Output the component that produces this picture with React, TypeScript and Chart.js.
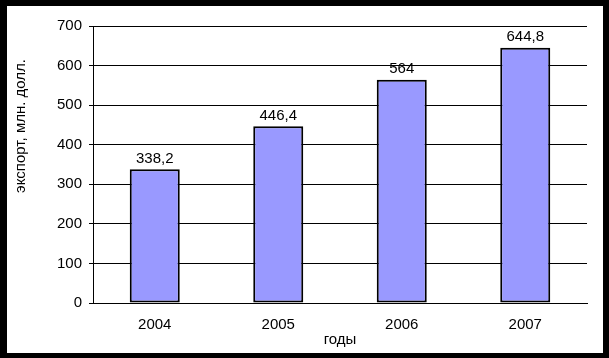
import React, { useEffect, useRef } from "react";
import { Chart, registerables } from "chart.js";

Chart.register(...registerables);

const categories = ["2004", "2005", "2006", "2007"];
const exportValues = [338.2, 446.4, 564, 644.8];
const yTicks = [0, 100, 200, 300, 400, 500, 600, 700];
const xTitle = "годы";
const yTitle = "экспорт, млн. долл.";

const FONT = "'Liberation Sans', Arial, sans-serif";

const fmt = (v: number) => String(v).replace(".", ",");

const framePlugin = {
  id: "frame",
  beforeDraw(chart: any) {
    const { ctx, width, height } = chart;
    ctx.save();
    ctx.fillStyle = "#ffffff";
    ctx.fillRect(0, 0, width, height);
    ctx.restore();
  },
  afterDatasetsDraw(chart: any) {
    const { ctx } = chart;
    const meta = chart.getDatasetMeta(0);
    ctx.save();
    ctx.fillStyle = "#000000";
    ctx.font = `15px ${FONT}`;
    ctx.textAlign = "center";
    ctx.textBaseline = "bottom";
    meta.data.forEach((bar: any, i: number) => {
      ctx.fillText(fmt(exportValues[i]), bar.x, bar.y - 3);
    });
    ctx.restore();
  },
  afterDraw(chart: any) {
    const { ctx, width, height } = chart;
    ctx.save();
    ctx.fillStyle = "#000000";
    ctx.font = `15px ${FONT}`;
    ctx.translate(21, 126);
    ctx.rotate(-Math.PI / 2);
    ctx.textAlign = "center";
    ctx.textBaseline = "middle";
    ctx.fillText(yTitle, 0, 0);
    ctx.restore();
    ctx.save();
    ctx.fillStyle = "#000000";
    ctx.fillRect(0, 0, 7, height);
    ctx.fillRect(0, 0, width, 6);
    ctx.fillRect(width - 6, 0, 6, height);
    ctx.fillRect(0, height - 5, width, 5);
    ctx.restore();
  },
};

export default function App() {
  const ref = useRef<HTMLCanvasElement | null>(null);

  useEffect(() => {
    if (!ref.current) return;
    const chart = new Chart(ref.current, {
      type: "bar",
      data: {
        labels: categories,
        datasets: [
          {
            data: exportValues,
            backgroundColor: "#9999ff",
            borderColor: "#000000",
            borderWidth: 2,
            borderSkipped: false,
            categoryPercentage: 1,
            barPercentage: 0.405,
          },
        ],
      },
      options: {
        responsive: false,
        animation: false,
        layout: { padding: { left: 0, top: 26, right: 22, bottom: 5 } },
        plugins: {
          legend: { display: false },
          tooltip: { enabled: false },
          title: { display: false },
        },
        scales: {
          x: {
            grid: { display: false },
            border: { display: true, color: "#000000", width: 1 },
            ticks: {
              color: "#000000",
              font: { family: FONT, size: 15 },
              padding: 5,
              maxRotation: 0,
            },
            title: {
              display: true,
              text: xTitle,
              color: "#000000",
              font: { family: FONT, size: 15 },
              padding: { top: 0, bottom: 4 },
            },
            afterFit(scale: any) {
              scale.height = 358 - 302 - 6;
            },
          },
          y: {
            min: 0,
            max: 700,
            afterBuildTicks(scale: any) {
              scale.ticks = yTicks.map((v) => ({ value: v }));
            },
            grid: {
              display: true,
              color: "#000000",
              lineWidth: 1,
              drawTicks: true,
              tickLength: 4,
            },
            border: { display: true, color: "#000000", width: 1 },
            ticks: {
              color: "#000000",
              font: { family: FONT, size: 15 },
              padding: 7,
            },
            afterFit(scale: any) {
              scale.width = 93;
            },
          },
        },
      },
      plugins: [framePlugin],
    });
    return () => chart.destroy();
  }, []);

  return (
    <div style={{ position: "fixed", left: 0, top: 0, width: 609, height: 358 }}>
      <canvas ref={ref} width={609} height={358} style={{ display: "block" }} />
    </div>
  );
}
